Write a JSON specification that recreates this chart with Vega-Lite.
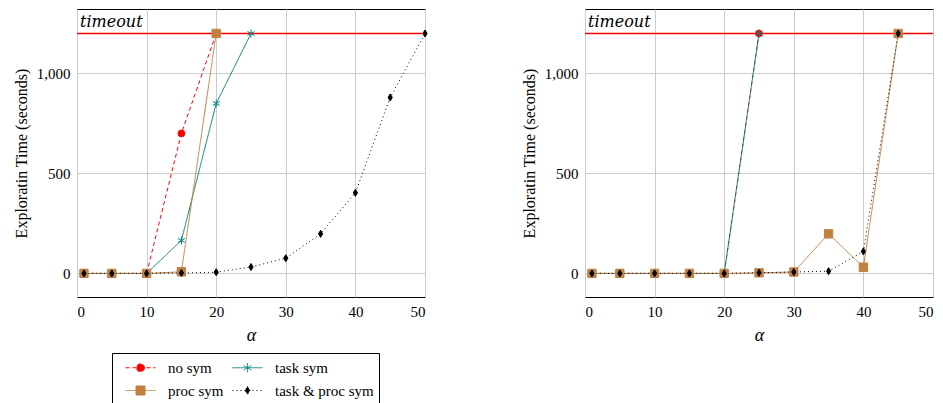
{
  "$schema": "https://vega.github.io/schema/vega-lite/v6.json",
  "background": "white",
  "padding": {"left": 12, "top": 8, "right": 5, "bottom": 0},
  "config": {
    "font": "Liberation Serif",
    "view": {"stroke": "black", "strokeWidth": 1},
    "axis": {"domain": false, "ticks": false, "gridColor": "#cccccc", "gridWidth": 1, "labelFont": "Liberation Serif", "labelFontSize": 15, "labelColor": "black", "titleFont": "Liberation Serif", "titleFontSize": 16, "titleFontWeight": "normal", "titleColor": "black", "labelPadding": 7, "titlePadding": 7}
  },
  "datasets": {
    "left": [
      {"series": "no sym", "alpha": 1, "time": 0},
      {"series": "no sym", "alpha": 5, "time": 0},
      {"series": "no sym", "alpha": 10, "time": 0},
      {"series": "no sym", "alpha": 15, "time": 700},
      {"series": "no sym", "alpha": 20, "time": 1200},
      {"series": "task sym", "alpha": 1, "time": 0},
      {"series": "task sym", "alpha": 5, "time": 0},
      {"series": "task sym", "alpha": 10, "time": 0},
      {"series": "task sym", "alpha": 15, "time": 165},
      {"series": "task sym", "alpha": 20, "time": 850},
      {"series": "task sym", "alpha": 25, "time": 1200},
      {"series": "proc sym", "alpha": 1, "time": 0},
      {"series": "proc sym", "alpha": 5, "time": 0},
      {"series": "proc sym", "alpha": 10, "time": 0},
      {"series": "proc sym", "alpha": 15, "time": 8},
      {"series": "proc sym", "alpha": 20, "time": 1200},
      {"series": "task & proc sym", "alpha": 1, "time": 0},
      {"series": "task & proc sym", "alpha": 5, "time": 0},
      {"series": "task & proc sym", "alpha": 10, "time": 0},
      {"series": "task & proc sym", "alpha": 15, "time": 2},
      {"series": "task & proc sym", "alpha": 20, "time": 6},
      {"series": "task & proc sym", "alpha": 25, "time": 32},
      {"series": "task & proc sym", "alpha": 30, "time": 76},
      {"series": "task & proc sym", "alpha": 35, "time": 198},
      {"series": "task & proc sym", "alpha": 40, "time": 403},
      {"series": "task & proc sym", "alpha": 45, "time": 880},
      {"series": "task & proc sym", "alpha": 50, "time": 1200}
    ],
    "right": [
      {"series": "no sym", "alpha": 1, "time": 0},
      {"series": "no sym", "alpha": 5, "time": 0},
      {"series": "no sym", "alpha": 10, "time": 0},
      {"series": "no sym", "alpha": 15, "time": 0},
      {"series": "no sym", "alpha": 20, "time": 0},
      {"series": "no sym", "alpha": 25, "time": 1200},
      {"series": "task sym", "alpha": 1, "time": 0},
      {"series": "task sym", "alpha": 5, "time": 0},
      {"series": "task sym", "alpha": 10, "time": 0},
      {"series": "task sym", "alpha": 15, "time": 0},
      {"series": "task sym", "alpha": 20, "time": 0},
      {"series": "task sym", "alpha": 25, "time": 1200},
      {"series": "proc sym", "alpha": 1, "time": 0},
      {"series": "proc sym", "alpha": 5, "time": 0},
      {"series": "proc sym", "alpha": 10, "time": 0},
      {"series": "proc sym", "alpha": 15, "time": 0},
      {"series": "proc sym", "alpha": 20, "time": 0},
      {"series": "proc sym", "alpha": 25, "time": 3},
      {"series": "proc sym", "alpha": 30, "time": 7},
      {"series": "proc sym", "alpha": 35, "time": 198},
      {"series": "proc sym", "alpha": 40, "time": 31},
      {"series": "proc sym", "alpha": 45, "time": 1200},
      {"series": "task & proc sym", "alpha": 1, "time": 0},
      {"series": "task & proc sym", "alpha": 5, "time": 0},
      {"series": "task & proc sym", "alpha": 10, "time": 0},
      {"series": "task & proc sym", "alpha": 15, "time": 0},
      {"series": "task & proc sym", "alpha": 20, "time": 0},
      {"series": "task & proc sym", "alpha": 25, "time": 3},
      {"series": "task & proc sym", "alpha": 30, "time": 7},
      {"series": "task & proc sym", "alpha": 35, "time": 11},
      {"series": "task & proc sym", "alpha": 40, "time": 110},
      {"series": "task & proc sym", "alpha": 45, "time": 1200}
    ],
    "timeout": [{"label": "timeout", "alpha": 0, "time": 1200, "top": 1322.5}]
  },
  "spacing": 90,
  "hconcat": [
    {
      "width": 348, "height": 288,
      "layer": [
        {
          "data": {"name": "timeout"},
          "mark": {"type": "rule", "stroke": "#ff0000", "strokeWidth": 1.3},
          "encoding": {"y": {"field": "time", "type": "quantitative"}}
        },
        {
          "data": {"name": "timeout"},
          "mark": {"type": "text", "align": "left", "baseline": "alphabetic", "dx": 3, "dy": 18, "fontStyle": "italic", "fontSize": 16, "font": "DejaVu Serif", "color": "black"},
          "encoding": {"x": {"field": "alpha", "type": "quantitative"}, "y": {"field": "top", "type": "quantitative"}, "text": {"field": "label"}}
        },
        {
          "data": {"name": "left"},
          "mark": {"type": "line", "strokeWidth": 1},
          "encoding": {
            "x": {"field": "alpha", "type": "quantitative", "scale": {"domain": [0, 50], "nice": false}, "axis": {"values": [0, 10, 20, 30, 40, 50], "title": "α", "titleFontStyle": "italic", "titleFontSize": 18, "grid": true}},
            "y": {"field": "time", "type": "quantitative", "scale": {"domain": [-118, 1322.5], "nice": false, "zero": false}, "axis": {"values": [0, 500, 1000], "format": ",.0f", "title": "Exploratin Time (seconds)"}},
            "color": {"field": "series", "type": "nominal", "scale": {"domain": ["no sym", "task sym", "proc sym", "task & proc sym"], "range": ["#ff0000", "#008080", "#bf8040", "#000000"]},
              "legend": {"title": null, "orient": "none", "legendX": 35, "legendY": 344, "direction": "horizontal", "columns": 2, "strokeColor": "black", "fillColor": "white", "padding": 5, "labelFont": "Liberation Serif", "labelFontSize": 15, "labelColor": "black", "symbolSize": 324, "symbolOffset": 14, "labelOffset": 18, "columnPadding": 0, "rowPadding": 5,
                "encode": {"symbols": {"update": {
                  "shape": {"signal": "datum.value === 'no sym' ? 'M-1.67,0L1.67,0M0.44,0A0.44,0.44,0,1,1,-0.44,0A0.44,0.44,0,1,1,0.44,0Z' : datum.value === 'task sym' ? 'M-1.67,0L1.67,0M0,-0.5L0,0.5M-0.43,-0.25L0.43,0.25M-0.43,0.25L0.43,-0.25' : datum.value === 'proc sym' ? 'M-1.67,0L1.67,0M-0.5,-0.5L0.5,-0.5L0.5,0.5L-0.5,0.5Z' : 'M-1.67,0L1.67,0M0,-0.44L0.28,0L0,0.44L-0.28,0Z'"},
                  "fill": {"signal": "datum.value === 'no sym' ? '#ff0000' : datum.value === 'task sym' ? 'transparent' : datum.value === 'proc sym' ? '#bf8040' : '#000000'"},
                  "stroke": {"signal": "datum.value === 'no sym' ? '#ff0000' : datum.value === 'task sym' ? '#008080' : datum.value === 'proc sym' ? '#bf8040' : '#000000'"},
                  "strokeDash": {"signal": "datum.value === 'no sym' ? [4,3] : datum.value === 'task & proc sym' ? [1,3] : [1,0]"},
                  "strokeWidth": {"value": 1},
                  "size": {"value": 324},
                  "opacity": {"value": 1}
                }}}}},
            "strokeDash": {"field": "series", "type": "nominal", "scale": {"domain": ["no sym", "task sym", "proc sym", "task & proc sym"], "range": [[4, 3], [1, 0], [1, 0], [1, 3]]}, "legend": null}
          }
        },
        {
          "data": {"name": "left"},
          "mark": {"type": "point", "strokeWidth": 1, "opacity": 1, "filled": true},
          "encoding": {
            "x": {"field": "alpha", "type": "quantitative"},
            "y": {"field": "time", "type": "quantitative"},
            "fill": {"condition": [{"test": "datum.series === 'no sym'", "value": "#ff0000"}, {"test": "datum.series === 'task sym'", "value": "#008080"}, {"test": "datum.series === 'proc sym'", "value": "#bf8040"}], "value": "#000000"},
            "stroke": {"condition": [{"test": "datum.series === 'no sym'", "value": "#ff0000"}, {"test": "datum.series === 'task sym'", "value": "#008080"}, {"test": "datum.series === 'proc sym'", "value": "#bf8040"}], "value": "#000000"},
            "size": {"condition": [{"test": "datum.series === 'no sym'", "value": 45}, {"test": "datum.series === 'task sym'", "value": 64}, {"test": "datum.series === 'proc sym'", "value": 70}], "value": 50},
            "shape": {"condition": [{"test": "datum.series === 'no sym'", "value": "circle"}, {"test": "datum.series === 'task sym'", "value": "M0,-1L0,1M-0.87,-0.5L0.87,0.5M-0.87,0.5L0.87,-0.5"}, {"test": "datum.series === 'proc sym'", "value": "square"}], "value": "M0,-1L0.6,0L0,1L-0.6,0Z"}
          }
        }
      ]
    },
    {
      "width": 348, "height": 288,
      "layer": [
        {
          "data": {"name": "timeout"},
          "mark": {"type": "rule", "stroke": "#ff0000", "strokeWidth": 1.3},
          "encoding": {"y": {"field": "time", "type": "quantitative"}}
        },
        {
          "data": {"name": "timeout"},
          "mark": {"type": "text", "align": "left", "baseline": "alphabetic", "dx": 3, "dy": 18, "fontStyle": "italic", "fontSize": 16, "font": "DejaVu Serif", "color": "black"},
          "encoding": {"x": {"field": "alpha", "type": "quantitative"}, "y": {"field": "top", "type": "quantitative"}, "text": {"field": "label"}}
        },
        {
          "data": {"name": "right"},
          "mark": {"type": "line", "strokeWidth": 1},
          "encoding": {
            "x": {"field": "alpha", "type": "quantitative", "scale": {"domain": [0, 50], "nice": false}, "axis": {"values": [0, 10, 20, 30, 40, 50], "title": "α", "titleFontStyle": "italic", "titleFontSize": 18, "grid": true}},
            "y": {"field": "time", "type": "quantitative", "scale": {"domain": [-118, 1322.5], "nice": false, "zero": false}, "axis": {"values": [0, 500, 1000], "format": ",.0f", "title": "Exploratin Time (seconds)"}},
            "color": {"field": "series", "type": "nominal", "scale": {"domain": ["no sym", "task sym", "proc sym", "task & proc sym"], "range": ["#ff0000", "#008080", "#bf8040", "#000000"]},
              "legend": {"title": null, "orient": "none", "legendX": 35, "legendY": 344, "direction": "horizontal", "columns": 2, "strokeColor": "black", "fillColor": "white", "padding": 5, "labelFont": "Liberation Serif", "labelFontSize": 15, "labelColor": "black", "symbolSize": 324, "symbolOffset": 14, "labelOffset": 18, "columnPadding": 0, "rowPadding": 5,
                "encode": {"symbols": {"update": {
                  "shape": {"signal": "datum.value === 'no sym' ? 'M-1.67,0L1.67,0M0.44,0A0.44,0.44,0,1,1,-0.44,0A0.44,0.44,0,1,1,0.44,0Z' : datum.value === 'task sym' ? 'M-1.67,0L1.67,0M0,-0.5L0,0.5M-0.43,-0.25L0.43,0.25M-0.43,0.25L0.43,-0.25' : datum.value === 'proc sym' ? 'M-1.67,0L1.67,0M-0.5,-0.5L0.5,-0.5L0.5,0.5L-0.5,0.5Z' : 'M-1.67,0L1.67,0M0,-0.44L0.28,0L0,0.44L-0.28,0Z'"},
                  "fill": {"signal": "datum.value === 'no sym' ? '#ff0000' : datum.value === 'task sym' ? 'transparent' : datum.value === 'proc sym' ? '#bf8040' : '#000000'"},
                  "stroke": {"signal": "datum.value === 'no sym' ? '#ff0000' : datum.value === 'task sym' ? '#008080' : datum.value === 'proc sym' ? '#bf8040' : '#000000'"},
                  "strokeDash": {"signal": "datum.value === 'no sym' ? [4,3] : datum.value === 'task & proc sym' ? [1,3] : [1,0]"},
                  "strokeWidth": {"value": 1},
                  "size": {"value": 324},
                  "opacity": {"value": 1}
                }}}}},
            "strokeDash": {"field": "series", "type": "nominal", "scale": {"domain": ["no sym", "task sym", "proc sym", "task & proc sym"], "range": [[4, 3], [1, 0], [1, 0], [1, 3]]}, "legend": null}
          }
        },
        {
          "data": {"name": "right"},
          "mark": {"type": "point", "strokeWidth": 1, "opacity": 1, "filled": true},
          "encoding": {
            "x": {"field": "alpha", "type": "quantitative"},
            "y": {"field": "time", "type": "quantitative"},
            "fill": {"condition": [{"test": "datum.series === 'no sym'", "value": "#ff0000"}, {"test": "datum.series === 'task sym'", "value": "#008080"}, {"test": "datum.series === 'proc sym'", "value": "#bf8040"}], "value": "#000000"},
            "stroke": {"condition": [{"test": "datum.series === 'no sym'", "value": "#ff0000"}, {"test": "datum.series === 'task sym'", "value": "#008080"}, {"test": "datum.series === 'proc sym'", "value": "#bf8040"}], "value": "#000000"},
            "size": {"condition": [{"test": "datum.series === 'no sym'", "value": 45}, {"test": "datum.series === 'task sym'", "value": 64}, {"test": "datum.series === 'proc sym'", "value": 70}], "value": 50},
            "shape": {"condition": [{"test": "datum.series === 'no sym'", "value": "circle"}, {"test": "datum.series === 'task sym'", "value": "M0,-1L0,1M-0.87,-0.5L0.87,0.5M-0.87,0.5L0.87,-0.5"}, {"test": "datum.series === 'proc sym'", "value": "square"}], "value": "M0,-1L0.6,0L0,1L-0.6,0Z"}
          }
        }
      ]
    }
  ]
}
